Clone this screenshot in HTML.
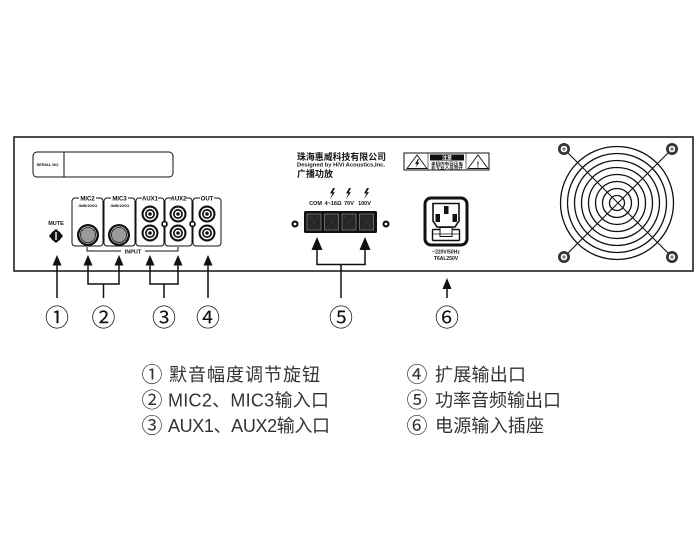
<!DOCTYPE html>
<html><head><meta charset="utf-8">
<style>html,body{margin:0;padding:0;background:#fff}svg{display:block}</style>
</head>
<body>
<svg width="700" height="558" viewBox="0 0 700 558" xmlns="http://www.w3.org/2000/svg" font-family="'Liberation Sans','Noto Sans CJK SC',sans-serif">
<rect width="700" height="558" fill="#fff"/>

<!-- panel -->
<rect x="14" y="137" width="679" height="134" fill="none" stroke="#111" stroke-width="1.5"/>

<!-- serial box -->
<rect x="33" y="152" width="140" height="25" rx="4" fill="none" stroke="#111" stroke-width="1"/>
<line x1="64" y1="152" x2="64" y2="177" stroke="#111" stroke-width="1"/>
<text x="36.5" y="166" font-size="4" font-weight="bold" fill="#111">SERIAL NO.</text>

<!-- mute -->
<text x="56" y="225" font-size="5.5" font-weight="bold" text-anchor="middle" fill="#111">MUTE</text>
<g fill="#111">
<circle cx="56" cy="236" r="5.5"/>
<rect x="54.5" y="229.5" width="3" height="13"/>
<rect x="49.5" y="234.5" width="13" height="3"/>
</g>
<line x1="56" y1="232" x2="56" y2="240" stroke="#fff" stroke-width="1.4"/>

<!-- input boxes -->
<g fill="none" stroke="#111" stroke-width="1">
<rect x="72" y="198" width="31" height="48" rx="3"/>
<rect x="104" y="198" width="31" height="48" rx="3"/>
<rect x="136" y="198" width="28" height="48" rx="3"/>
<rect x="165" y="198" width="27" height="48" rx="3"/>
<rect x="193" y="198" width="28" height="48" rx="3"/>
</g>
<g fill="#fff">
<rect x="79" y="194" width="17" height="7"/>
<rect x="111" y="194" width="17" height="7"/>
<rect x="142" y="194" width="16" height="7"/>
<rect x="171" y="194" width="15" height="7"/>
<rect x="200" y="194" width="14" height="7"/>
</g>
<g font-size="6" font-weight="bold" text-anchor="middle" fill="#111">
<text x="87.5" y="200.5">MIC2</text>
<text x="119.5" y="200.5">MIC3</text>
<text x="150" y="200.5">AUX1</text>
<text x="178.5" y="200.5">AUX2</text>
<text x="207" y="200.5">OUT</text>
</g>
<g font-size="3.8" font-weight="bold" text-anchor="middle" fill="#111">
<text x="87.5" y="207">-5dB/10KΩ</text>
<text x="119.5" y="207">-5dB/10KΩ</text>
</g>

<!-- MIC jacks -->
<g>
<circle cx="88" cy="235" r="11" fill="#111"/>
<circle cx="88" cy="235" r="8.6" fill="#fff"/>
<circle cx="88" cy="235" r="7.6" fill="#9a9a9a" stroke="#222" stroke-width="0.9"/>
<circle cx="119" cy="235" r="11" fill="#111"/>
<circle cx="119" cy="235" r="8.6" fill="#fff"/>
<circle cx="119" cy="235" r="7.6" fill="#9a9a9a" stroke="#222" stroke-width="0.9"/>
</g>

<!-- RCA jacks -->
<g>
<g transform="translate(150,214)"><circle r="8.5" fill="#111"/><circle r="6.4" fill="#fff"/><circle r="5" fill="#111"/><circle r="3.3" fill="#fff"/><circle r="1.8" fill="#111"/></g>
<g transform="translate(150,233)"><circle r="8.5" fill="#111"/><circle r="6.4" fill="#fff"/><circle r="5" fill="#111"/><circle r="3.3" fill="#fff"/><circle r="1.8" fill="#111"/></g>
<g transform="translate(178,214)"><circle r="8.5" fill="#111"/><circle r="6.4" fill="#fff"/><circle r="5" fill="#111"/><circle r="3.3" fill="#fff"/><circle r="1.8" fill="#111"/></g>
<g transform="translate(178,233)"><circle r="8.5" fill="#111"/><circle r="6.4" fill="#fff"/><circle r="5" fill="#111"/><circle r="3.3" fill="#fff"/><circle r="1.8" fill="#111"/></g>
<g transform="translate(207,214)"><circle r="8.5" fill="#111"/><circle r="6.4" fill="#fff"/><circle r="5" fill="#111"/><circle r="3.3" fill="#fff"/><circle r="1.8" fill="#111"/></g>
<g transform="translate(207,233)"><circle r="8.5" fill="#111"/><circle r="6.4" fill="#fff"/><circle r="5" fill="#111"/><circle r="3.3" fill="#fff"/><circle r="1.8" fill="#111"/></g>
</g>
<circle cx="164.5" cy="224" r="3.3" fill="#111"/><circle cx="164.5" cy="224" r="1.6" fill="#fff"/>
<circle cx="192.5" cy="224" r="3.3" fill="#111"/><circle cx="192.5" cy="224" r="1.6" fill="#fff"/>

<!-- INPUT bracket -->
<polyline points="87,247 87,251 178,251 178,247" fill="none" stroke="#111" stroke-width="1"/>
<rect x="121" y="248" width="24" height="6" fill="#fff"/>
<text x="133" y="253.5" font-size="5.5" font-weight="bold" text-anchor="middle" fill="#111">INPUT</text>

<!-- company text -->
<text x="297" y="160" font-size="9" font-weight="bold" fill="#111" textLength="89" lengthAdjust="spacingAndGlyphs">珠海惠威科技有限公司</text>
<text x="297" y="166.5" font-size="5.5" font-weight="bold" fill="#111" textLength="88" lengthAdjust="spacingAndGlyphs">Designed by HiVi Acoustics,Inc.</text>
<text x="297" y="177" font-size="9" font-weight="bold" fill="#111" textLength="36" lengthAdjust="spacingAndGlyphs">广播功放</text>

<!-- warning label -->
<rect x="404" y="153" width="85" height="17" fill="none" stroke="#111" stroke-width="1"/>
<polygon points="417,155 407,168.5 427,168.5" fill="none" stroke="#111" stroke-width="0.9"/>
<polygon points="418,159 415,164 417,164 415.5,167.5 419.5,162.5 417.5,162.5 419,159" fill="#111"/>
<line x1="428" y1="153" x2="428" y2="170" stroke="#111" stroke-width="0.6"/>
<rect x="430" y="154.5" width="34" height="6" fill="#111"/>
<text x="447" y="159.7" font-size="5" font-weight="bold" text-anchor="middle" fill="#fff">注意</text>
<text x="431" y="165" font-size="3.8" font-weight="bold" fill="#111" textLength="32" lengthAdjust="spacingAndGlyphs">本机内有高压电</text>
<text x="431" y="169" font-size="3.8" font-weight="bold" fill="#111" textLength="32" lengthAdjust="spacingAndGlyphs">非专业人员勿开</text>
<line x1="466" y1="153" x2="466" y2="170" stroke="#111" stroke-width="0.6"/>
<polygon points="478,155 468,168.5 488,168.5" fill="none" stroke="#111" stroke-width="0.9"/>
<text x="478" y="167.5" font-size="8" font-weight="bold" text-anchor="middle" fill="#111">!</text>

<!-- speaker terminal -->
<g fill="#111">
<polygon points="333,188 330,193.5 332.5,193.5 330,199 335,192.2 332.8,192.2 335,188"/>
<polygon points="349,188 346,193.5 348.5,193.5 346,199 351,192.2 348.8,192.2 351,188"/>
<polygon points="367,188 364,193.5 366.5,193.5 364,199 369,192.2 366.8,192.2 369,188"/>
</g>
<g font-size="5.5" font-weight="bold" text-anchor="middle" fill="#111">
<text x="315.5" y="205">COM</text>
<text x="333" y="205">4~16Ω</text>
<text x="349" y="205">70V</text>
<text x="364.5" y="205">100V</text>
</g>
<rect x="304" y="211" width="73" height="22" rx="1.5" fill="#111"/>
<g fill="#262626" stroke="#8a8a8a" stroke-width="0.7">
<rect x="307" y="214" width="14" height="16"/>
<rect x="324.5" y="214" width="14" height="16"/>
<rect x="342" y="214" width="14" height="16"/>
<rect x="359.5" y="214" width="14" height="16"/>
</g>
<g stroke="#666" stroke-width="0.5" stroke-dasharray="1,1">
<line x1="309" y1="216" x2="319" y2="228"/><line x1="319" y1="216" x2="309" y2="228"/>
<line x1="326.5" y1="216" x2="336.5" y2="228"/><line x1="336.5" y1="216" x2="326.5" y2="228"/>
<line x1="344" y1="216" x2="354" y2="228"/><line x1="354" y1="216" x2="344" y2="228"/>
<line x1="361.5" y1="216" x2="371.5" y2="228"/><line x1="371.5" y1="216" x2="361.5" y2="228"/>
</g>
<circle cx="295" cy="224" r="3.5" fill="#111"/><circle cx="295" cy="224" r="1.4" fill="#fff"/>
<circle cx="386" cy="224" r="3.5" fill="#111"/><circle cx="386" cy="224" r="1.4" fill="#fff"/>

<!-- power socket -->
<rect x="425" y="198" width="42" height="47" rx="6" fill="none" stroke="#111" stroke-width="3"/>
<path d="M433 203.5 H459 V221 L455 227 H437 L433 221 Z" fill="none" stroke="#111" stroke-width="1.6"/>
<g fill="#111">
<rect x="444" y="206" width="4.5" height="8"/>
<rect x="435.5" y="214" width="4.5" height="8"/>
<rect x="452.5" y="214" width="4.5" height="8"/>
</g>
<rect x="432.5" y="229.5" width="27" height="11" rx="1" fill="none" stroke="#111" stroke-width="1.4"/>
<rect x="440" y="227.5" width="12" height="9" fill="#fff" stroke="#111" stroke-width="1"/>
<line x1="432.5" y1="234" x2="459.5" y2="234" stroke="#111" stroke-width="0.8"/>
<text x="446" y="253.5" font-size="5" font-weight="bold" text-anchor="middle" fill="#111">~220V/50Hz</text>
<text x="446" y="260" font-size="5" font-weight="bold" text-anchor="middle" fill="#111">T6AL250V</text>

<!-- fan -->
<g fill="none" stroke="#111" stroke-width="1.3">
<circle cx="617" cy="203" r="56.5"/>
<circle cx="617" cy="203" r="49.5"/>
<circle cx="617" cy="203" r="42.5"/>
<circle cx="617" cy="203" r="35.5"/>
<circle cx="617" cy="203" r="28.5"/>
<circle cx="617" cy="203" r="21.5"/>
<circle cx="617" cy="203" r="14.5"/>
<circle cx="617" cy="203" r="7.5"/>
<line x1="564" y1="149" x2="672" y2="257" stroke-width="1.1"/>
<line x1="672" y1="149" x2="564" y2="257" stroke-width="1.1"/>
</g>
<g>
<circle cx="564" cy="149" r="6" fill="#333"/><circle cx="564" cy="149" r="3.3" fill="#fff"/><path d="M562 149h4M564 147v4" stroke="#333" stroke-width="0.8"/>
<circle cx="672" cy="149" r="6" fill="#333"/><circle cx="672" cy="149" r="3.3" fill="#fff"/><path d="M670 149h4M672 147v4" stroke="#333" stroke-width="0.8"/>
<circle cx="564" cy="257" r="6" fill="#333"/><circle cx="564" cy="257" r="3.3" fill="#fff"/><path d="M562 257h4M564 255v4" stroke="#333" stroke-width="0.8"/>
<circle cx="672" cy="257" r="6" fill="#333"/><circle cx="672" cy="257" r="3.3" fill="#fff"/><path d="M670 257h4M672 255v4" stroke="#333" stroke-width="0.8"/>
</g>

<!-- arrows / callouts -->
<g fill="#111">
<polygon points="57,255 52.5,265.5 61.5,265.5"/>
<polygon points="88,255 83.5,265.5 92.5,265.5"/>
<polygon points="119,255 114.5,265.5 123.5,265.5"/>
<polygon points="150,255 145.5,265.5 154.5,265.5"/>
<polygon points="178,255 173.5,265.5 182.5,265.5"/>
<polygon points="208,255 203.5,265.5 212.5,265.5"/>
<polygon points="317,237 311.5,250 322.5,250"/>
<polygon points="365,237 359.5,250 370.5,250"/>
<polygon points="447,278 442.5,289 451.5,289"/>
</g>
<g fill="none" stroke="#111" stroke-width="1.5">
<line x1="57" y1="264" x2="57" y2="298"/>
<polyline points="88,264 88,284 119,284 119,264"/>
<line x1="103.5" y1="284" x2="103.5" y2="298"/>
<polyline points="150,264 150,284 178,284 178,264"/>
<line x1="164" y1="284" x2="164" y2="298"/>
<line x1="208" y1="264" x2="208" y2="298"/>
<polyline points="317,249 317,264.5 365,264.5 365,249"/>
<line x1="341" y1="264.5" x2="341" y2="298"/>
<line x1="447" y1="288" x2="447" y2="298"/>
</g>
<g font-family="'Noto Sans CJK SC','DejaVu Sans',sans-serif" font-size="24" text-anchor="middle" fill="#111">
<text x="57" y="326">①</text>
<text x="103.5" y="326">②</text>
<text x="164" y="326">③</text>
<text x="208" y="326">④</text>
<text x="341" y="326">⑤</text>
<text x="447" y="326">⑥</text>
</g>

<!-- legend -->
<g font-size="18" fill="#333">
<g font-size="21" font-family="'Noto Sans CJK SC',sans-serif">
<text x="141.5" y="382">①</text>
<text x="141.5" y="407.5">②</text>
<text x="141.5" y="433">③</text>
<text x="406.5" y="382">④</text>
<text x="406.5" y="407.5">⑤</text>
<text x="406.5" y="433">⑥</text>
</g>
<text x="169" y="381" textLength="151" lengthAdjust="spacing">默音幅度调节旋钮</text>
<text x="168" y="406.5" textLength="161" lengthAdjust="spacing">MIC2、MIC3输入口</text>
<text x="168" y="432" textLength="162" lengthAdjust="spacing">AUX1、AUX2输入口</text>
<text x="435" y="381" textLength="91" lengthAdjust="spacing">扩展输出口</text>
<text x="435" y="406.5" textLength="126" lengthAdjust="spacing">功率音频输出口</text>
<text x="435" y="432" textLength="109" lengthAdjust="spacing">电源输入插座</text>
</g>
</svg>
</body></html>
